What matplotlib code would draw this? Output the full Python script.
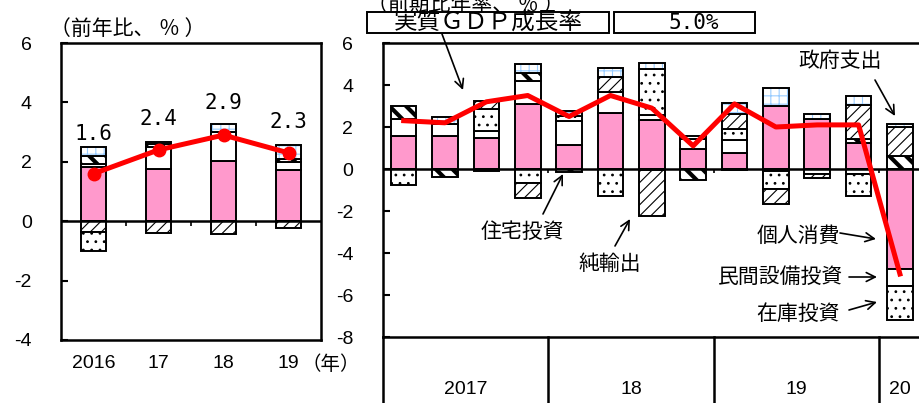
import numpy as np
import matplotlib
matplotlib.use('Agg')
import matplotlib.pyplot as plt
from matplotlib.patches import Rectangle, FancyArrowPatch

W, H = 919, 403
plt.rcParams['font.family'] = ['Liberation Sans', 'Noto Sans CJK JP', 'DejaVu Sans']
plt.rcParams['hatch.linewidth'] = 0.8
plt.rcParams['axes.unicode_minus'] = False
JP = ['Noto Sans CJK JP', 'DejaVu Sans']

# ---- annual data (left panel), contributions in % points ----
years = ['2016', '17', '18', '19']
pce_y = [1.82, 1.75, 2.03, 1.72]
equip_y = [0.10, 0.75, 0.96, 0.29]
resid_y = [0.28, 0.10, 0.03, 0.10]
netx_y = [-0.36, -0.40, -0.43, -0.23]
inv_y = [-0.66, 0.0, 0.0, 0.0]
gov_y = [0.30, 0.05, 0.25, 0.45]
gdp_y = [1.6, 2.4, 2.9, 2.3]

# ---- quarterly data (right panel), annualised q/q ----
group_names = ['2017', '18', '19', '20']
group_sizes = [4, 4, 4, 1]
pce_q = [1.57, 1.57, 1.50, 3.10, 1.16, 2.67, 2.33, 0.95, 0.76, 3.00, 2.38, 1.24, -4.76]
equip_q = [0.81, 0.57, 0.30, 1.10, 1.14, 1.00, 0.24, 0.48, 0.60, -0.10, -0.24, -0.24, -0.83]
inv_q = [-0.76, 0.0, 1.08, -0.65, 0.24, -1.30, 2.18, 0.15, 0.56, -0.85, 0.0, -1.06, -1.59]
resid_q = [0.60, -0.37, -0.10, 0.37, -0.15, 0.0, -0.05, -0.50, -0.05, 0.0, 0.0, 0.19, 0.62]
netx_q = [0.0, 0.0, 0.36, -0.75, 0.0, 0.73, -2.20, 0.0, 0.71, -0.70, -0.20, 1.62, 1.40]
gov_q = [0.0, 0.35, 0.0, 0.43, 0.22, 0.43, 0.32, 0.0, 0.52, 0.87, 0.24, 0.41, 0.13]
gdp_q = [2.3, 2.2, 3.2, 3.5, 2.5, 3.5, 2.9, 1.1, 3.1, 2.0, 2.1, 2.1, -5.0]
latest_growth = '5.0%'

styles = {
    'pce': dict(fc='#FF99CC', hatch=None),
    'equip': dict(fc='white', hatch=None),
    'inv': dict(fc='white', hatch='..'),
    'resid': dict(fc='white', hatch='\\\\', hlw=3.0),
    'netx': dict(fc='white', hatch='///'),
    'gov': dict(fc='white', hatch='++', hc='#99CCFF'),
}


def fx(px):
    return px / W


def fy(py):
    return 1 - py / H


def draw_segment(ax, x, h, b, w, st):
    if st.get('hc'):
        ax.bar(x, h, w, bottom=b, color='white', edgecolor=st['hc'],
               hatch=st['hatch'], linewidth=0, zorder=2)
        ax.bar(x, h, w, bottom=b, fill=False, edgecolor='black',
               linewidth=1.4, zorder=2.1)
        return
    hlw = st.get('hlw', 0.8)
    with plt.rc_context({'hatch.linewidth': hlw}):
        bars = ax.bar(x, h, w, bottom=b, facecolor=st['fc'], edgecolor='black',
                      hatch=st['hatch'], linewidth=1.4, zorder=2)
    for p in bars:
        if hasattr(p, 'set_hatch_linewidth'):
            p.set_hatch_linewidth(hlw)


def draw_stack(ax, series, width):
    n = len(series[0][1])
    x = np.arange(n)
    pos = np.zeros(n)
    neg = np.zeros(n)
    for key, vals in series:
        v = np.asarray(vals, dtype=float)
        b = np.where(v >= 0, pos, neg)
        m = v != 0
        draw_segment(ax, x[m], v[m], b[m], width, styles[key])
        pos += np.clip(v, 0, None)
        neg += np.clip(v, None, 0)
    return x, pos


fig = plt.figure(figsize=(W / 100, H / 100), dpi=100)

# ================= left panel =================
ax1 = fig.add_axes([fx(61), fy(340), fx(321) - fx(61), fy(43) - fy(340)])
x1, top1 = draw_stack(ax1, [('pce', pce_y), ('equip', equip_y), ('resid', resid_y),
                            ('netx', netx_y), ('inv', inv_y), ('gov', gov_y)], 0.39)
ax1.axhline(0, color='black', lw=1.8, zorder=3)
ax1.vlines(x1[:-1] + 0.5, -0.17, 0, color='black', lw=1.2, zorder=3)
ax1.plot(x1, gdp_y, color='red', lw=3.6, marker='o', ms=9, zorder=5)
for xi, t, g in zip(x1, top1, gdp_y):
    ax1.text(xi, (t + g) / 2 + 0.9, f'{g:.1f}', ha='center', va='center',
             fontsize=15, family='DejaVu Sans Mono')
ax1.set_xlim(-0.5, 3.5)
ax1.set_ylim(-4, 6)
ax1.set_yticks(range(-4, 7, 2))
ax1.set_xticks(x1)
ax1.set_xticklabels(years)
ax1.tick_params(axis='y', direction='in', length=5, width=1.5, pad=21, labelsize=14)
ax1.tick_params(axis='x', length=0, pad=11, labelsize=14)
for s in ax1.spines.values():
    s.set_linewidth(1.8)
ax1.text(x1[-1] + 0.2, -0.084, '（年）', transform=ax1.get_xaxis_transform(),
         ha='left', va='center', fontsize=14, family=JP)
fig.text(fx(50), fy(29), '（前年比、 ％ ）', ha='left', va='center', fontsize=15, family=JP)

# ================= right panel =================
ax2 = fig.add_axes([fx(383), fy(337), (920.6 - 383) / W, fy(43) - fy(337)])
x2, top2 = draw_stack(ax2, [('pce', pce_q), ('equip', equip_q), ('inv', inv_q),
                            ('resid', resid_q), ('netx', netx_q), ('gov', gov_q)], 0.62)
ax2.axhline(0, color='black', lw=1.8, zorder=3)
bounds = np.cumsum(group_sizes) - 0.5
ax2.vlines(bounds[:-1], -0.2, 0, color='black', lw=1.2, zorder=3)
ax2.plot(x2, gdp_q, color='red', lw=3.6, zorder=5)
ax2.set_xlim(-0.5, 12.5)
ax2.set_ylim(-8, 6)
ax2.set_yticks(range(-8, 7, 2))
ax2.tick_params(axis='y', direction='in', length=5, width=1.5, pad=21.5, labelsize=14)
ax2.tick_params(axis='x', bottom=False, labelbottom=False)
ax2.spines['right'].set_visible(False)
for s in ['left', 'top', 'bottom']:
    ax2.spines[s].set_linewidth(1.8)

# category table below right panel
xt = ax2.get_xaxis_transform()
starts = np.concatenate([[0], np.cumsum(group_sizes)[:-1]])
for b in np.concatenate([[-0.5], bounds[:-1]]):
    ax2.plot([b, b], [0, -0.4], color='black', lw=1.8, transform=xt, clip_on=False)
for name, s0, n in zip(group_names, starts, group_sizes):
    ax2.text(s0 + (n - 1) / 2, -0.18, name, transform=xt, ha='center', va='center',
             fontsize=14)

# header boxes
fig.text(fx(367), fy(6), '（前期比年率、 ％ ）', ha='left', va='center', fontsize=15,
         family=JP, zorder=1)
for x0, x1b in [(367, 609), (614, 755)]:
    fig.patches.append(Rectangle((fx(x0), fy(33)), fx(x1b) - fx(x0), fy(12) - fy(33),
                                 transform=fig.transFigure, facecolor='white',
                                 edgecolor='black', lw=1.4, zorder=2))
fig.text(fx(488), fy(23), '実質ＧＤＰ成長率', ha='center', va='center', fontsize=17,
         family=JP, zorder=3)
fig.text(fx(694), fy(23), latest_growth, ha='center', va='center', fontsize=15,
         family='DejaVu Sans Mono', zorder=3)


def arrow(p0, p1):
    fig.add_artist(FancyArrowPatch((fx(p0[0]), fy(p0[1])), (fx(p1[0]), fy(p1[1])),
                                   transform=fig.transFigure, arrowstyle='->',
                                   mutation_scale=16, lw=1.2, color='black',
                                   shrinkA=0, shrinkB=0, zorder=6))


def label(x, y, s, ha='center'):
    fig.text(fx(x), fy(y), s, ha=ha, va='center', fontsize=15, family=JP, zorder=6)


arrow((442, 34), (463, 90))
label(840, 61, '政府支出')
arrow((875, 80), (895, 116))
label(522, 232, '住宅投資')
arrow((543, 214), (563, 174))
label(610, 264, '純輸出')
arrow((615, 246), (630, 219))
label(840, 236, '個人消費', ha='right')
arrow((840, 233), (876, 239))
label(843, 277, '民間設備投資', ha='right')
arrow((849, 277), (877, 277))
label(840, 314, '在庫投資', ha='right')
arrow((849, 310), (877, 302))

fig.savefig('out.png', dpi=100)
